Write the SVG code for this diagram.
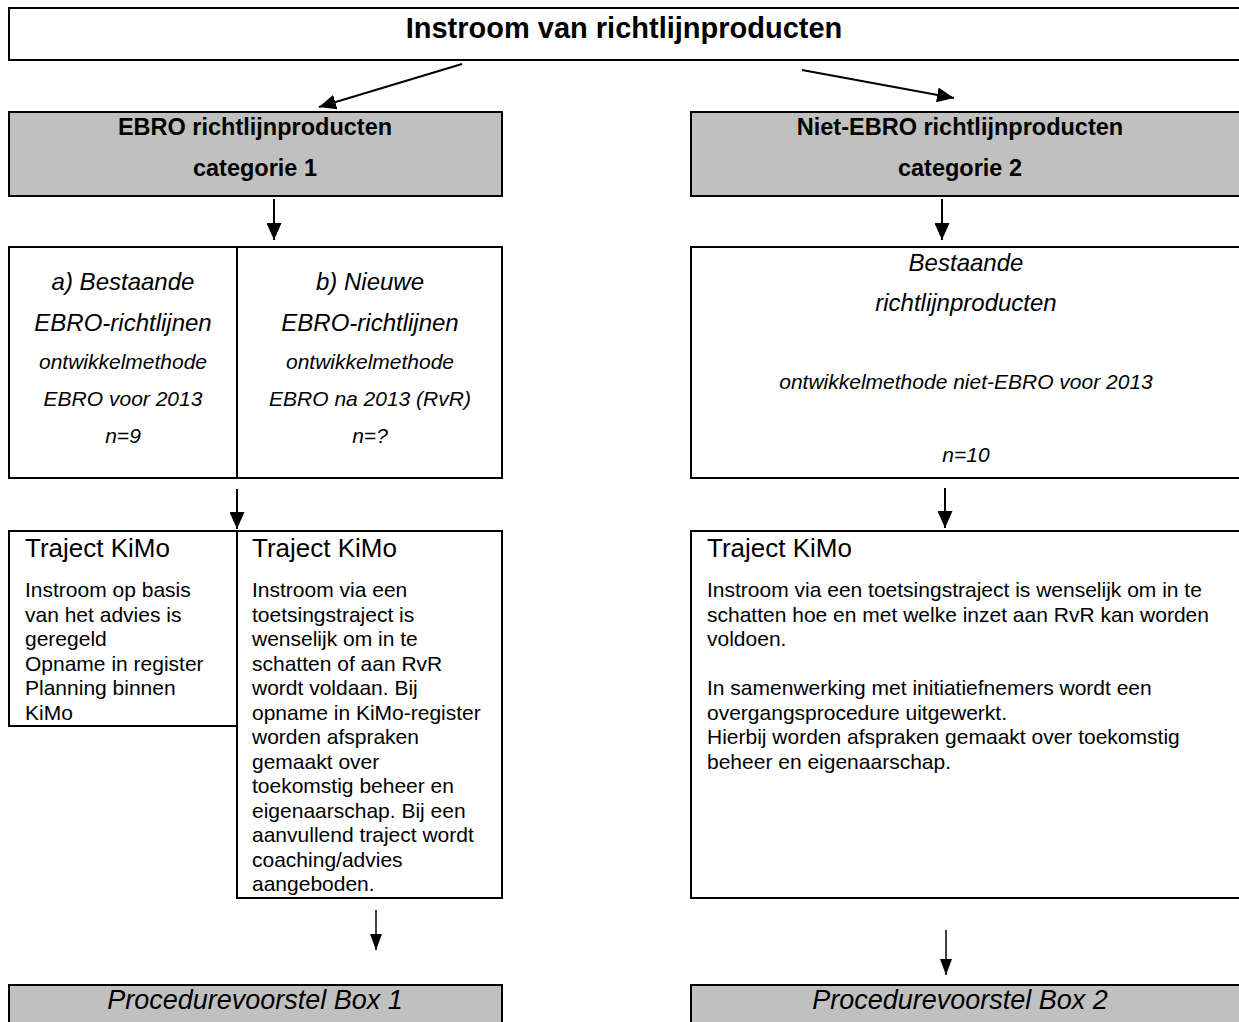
<svg xmlns="http://www.w3.org/2000/svg" width="1239" height="1022" viewBox="0 0 1239 1022">
<defs>
<marker id="ah" viewBox="0 0 17 15" refX="17" refY="7.5" markerWidth="17" markerHeight="15" markerUnits="userSpaceOnUse" orient="auto">
<path d="M0,0 L17,7.5 L0,15 z" fill="#000"/>
</marker>
<marker id="ah2" viewBox="0 0 16 12" refX="16" refY="6" markerWidth="16" markerHeight="12" markerUnits="userSpaceOnUse" orient="auto">
<path d="M0,0 L16,6 L0,12 z" fill="#000"/>
</marker>
</defs>
<style>
.box{fill:#fff;stroke:#000;stroke-width:2}
.grey{fill:#c0c0c0;stroke:#000;stroke-width:2}
.t{font-family:"Liberation Sans",Arial,Helvetica,sans-serif;fill:#000}
.title{font-size:29px;font-weight:bold;text-anchor:middle}
.lab{font-size:23.5px;font-weight:bold;text-anchor:middle}
.ih{font-size:24px;font-style:italic;text-anchor:middle}
.is{font-size:21px;font-style:italic;text-anchor:middle}
.kh{font-size:26px}
.body{font-size:21px}
.proc{font-size:27px;font-style:italic;text-anchor:middle}
.c{stroke:#000;stroke-width:2;fill:none;marker-end:url(#ah)}
.c2{stroke:#000;stroke-width:1.5;fill:none;marker-end:url(#ah2)}
</style>
<rect width="1239" height="1022" fill="#fff"/>

<g id="instroom">
<rect class="box" x="9" y="8" width="1300" height="52"/>
<text class="t title" x="624" y="38">Instroom van richtlijnproducten</text>
</g>

<g id="ebro">
<rect class="grey" x="9" y="112" width="493" height="84"/>
<text class="t lab" x="255" y="135">EBRO richtlijnproducten</text>
<text class="t lab" x="255" y="176">categorie 1</text>
</g>

<g id="niet-ebro">
<rect class="grey" x="691" y="112" width="600" height="84"/>
<text class="t lab" x="960" y="135">Niet-EBRO richtlijnproducten</text>
<text class="t lab" x="960" y="176">categorie 2</text>
</g>

<g id="cat-a">
<rect class="box" x="9" y="247" width="228" height="231"/>
<text class="t ih" x="123" y="290">a) Bestaande</text>
<text class="t ih" x="123" y="331">EBRO-richtlijnen</text>
<text class="t is" x="123" y="369">ontwikkelmethode</text>
<text class="t is" x="123" y="406">EBRO voor 2013</text>
<text class="t is" x="123" y="443">n=9</text>
</g>

<g id="cat-b">
<rect class="box" x="237" y="247" width="265" height="231"/>
<text class="t ih" x="370" y="290">b) Nieuwe</text>
<text class="t ih" x="370" y="331">EBRO-richtlijnen</text>
<text class="t is" x="370" y="369">ontwikkelmethode</text>
<text class="t is" x="370" y="406">EBRO na 2013 (RvR)</text>
<text class="t is" x="370" y="443">n=?</text>
</g>

<g id="cat-2">
<rect class="box" x="691" y="247" width="600" height="231"/>
<text class="t ih" x="966" y="271">Bestaande</text>
<text class="t ih" x="966" y="311">richtlijnproducten</text>
<text class="t is" x="966" y="389">ontwikkelmethode niet-EBRO voor 2013</text>
<text class="t is" x="966" y="462">n=10</text>
</g>

<g id="traject-a">
<rect class="box" x="9" y="531" width="228" height="195"/>
<text class="t kh" x="25" y="557">Traject KiMo</text>
<text class="t body" x="25" y="597">Instroom op basis</text>
<text class="t body" x="25" y="621.5">van het advies is</text>
<text class="t body" x="25" y="646">geregeld</text>
<text class="t body" x="25" y="670.5">Opname in register</text>
<text class="t body" x="25" y="695">Planning binnen</text>
<text class="t body" x="25" y="719.5">KiMo</text>
</g>

<g id="traject-b">
<rect class="box" x="237" y="531" width="265" height="367"/>
<text class="t kh" x="252" y="557">Traject KiMo</text>
<text class="t body" x="252" y="597">Instroom via een</text>
<text class="t body" x="252" y="621.5">toetsingstraject is</text>
<text class="t body" x="252" y="646">wenselijk om in te</text>
<text class="t body" x="252" y="670.5">schatten of aan RvR</text>
<text class="t body" x="252" y="695">wordt voldaan. Bij</text>
<text class="t body" x="252" y="719.5">opname in KiMo-register</text>
<text class="t body" x="252" y="744">worden afspraken</text>
<text class="t body" x="252" y="768.5">gemaakt over</text>
<text class="t body" x="252" y="793">toekomstig beheer en</text>
<text class="t body" x="252" y="817.5">eigenaarschap. Bij een</text>
<text class="t body" x="252" y="842">aanvullend traject wordt</text>
<text class="t body" x="252" y="866.5">coaching/advies</text>
<text class="t body" x="252" y="891">aangeboden.</text>
</g>

<g id="traject-2">
<rect class="box" x="691" y="531" width="600" height="367"/>
<text class="t kh" x="707" y="557">Traject KiMo</text>
<text class="t body" x="707" y="597">Instroom via een toetsingstraject is wenselijk om in te</text>
<text class="t body" x="707" y="621.5">schatten hoe en met welke inzet aan RvR kan worden</text>
<text class="t body" x="707" y="646">voldoen.</text>
<text class="t body" x="707" y="695">In samenwerking met initiatiefnemers wordt een</text>
<text class="t body" x="707" y="719.5">overgangsprocedure uitgewerkt.</text>
<text class="t body" x="707" y="744">Hierbij worden afspraken gemaakt over toekomstig</text>
<text class="t body" x="707" y="768.5">beheer en eigenaarschap.</text>
</g>

<g id="box1">
<rect class="grey" x="9" y="985" width="493" height="60"/>
<text class="t proc" x="255" y="1009">Procedurevoorstel Box 1</text>
</g>

<g id="box2">
<rect class="grey" x="691" y="985" width="600" height="60"/>
<text class="t proc" x="960" y="1009">Procedurevoorstel Box 2</text>
</g>

<g id="connectors">
<line class="c" x1="462" y1="64" x2="319" y2="107"/>
<line class="c" x1="802" y1="70" x2="954" y2="98"/>
<line class="c" x1="274" y1="199" x2="274" y2="240"/>
<line class="c" x1="942" y1="199" x2="942" y2="240"/>
<line class="c" x1="237" y1="489" x2="237" y2="529"/>
<line class="c" x1="945" y1="488" x2="945" y2="528"/>
<line class="c2" x1="376" y1="910" x2="376" y2="950"/>
<line class="c2" x1="946" y1="930" x2="946" y2="975"/>
</g>
</svg>
